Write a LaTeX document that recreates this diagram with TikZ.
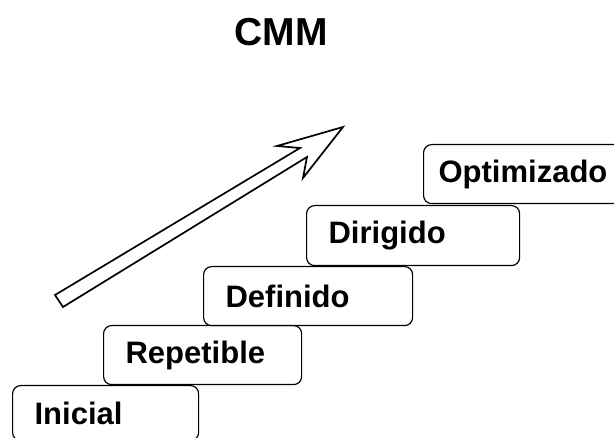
\documentclass[tikz,border=0pt]{standalone}
\usepackage{fontspec}
\setmainfont{Liberation Sans}
\begin{document}
\begin{tikzpicture}[x=1pt,y=-1pt,
  stage/.style={draw, fill=white, line width=1.2pt, rounded corners=8pt,
    anchor=north west, inner xsep=22pt, inner ysep=0pt, align=left,
    font=\fontsize{31}{33}\selectfont\bfseries},
  title/.style={font=\fontsize{39}{42}\selectfont\bfseries},
  bigarrow/.style={draw, line width=1.7pt, line join=miter, fill=white}]
\clip (0,0) rectangle (614,438);
\fill[white] (0,0) rectangle (614,438);

% heading
\node[title] (heading) at (281,32) {CMM};

% maturity levels as a staircase
\node[stage, minimum width=186pt, minimum height=55pt, text width=142pt] (inicial)    at (12,385)  {Inicial};
\node[stage, minimum width=198pt, minimum height=59pt, text width=154pt] (repetible)  at (103,325) {Repetible};
\node[stage, minimum width=209pt, minimum height=59pt, text width=165pt] (definido)   at (203,266) {Definido};
\node[stage, minimum width=213pt, minimum height=60pt, text width=169pt] (dirigido)   at (306,205) {Dirigido};
\node[stage, inner xsep=15pt, minimum width=220pt, minimum height=59pt, text width=190pt] (optimizado) at (423,144) {Optimizado};

% hollow block arrow pointing up the stairs
\draw[bigarrow] (55,295) -- (300,148) -- (277,146) -- (343,127)
  -- (303,178) -- (307,157) -- (63,307) -- cycle;
\end{tikzpicture}
\end{document}
